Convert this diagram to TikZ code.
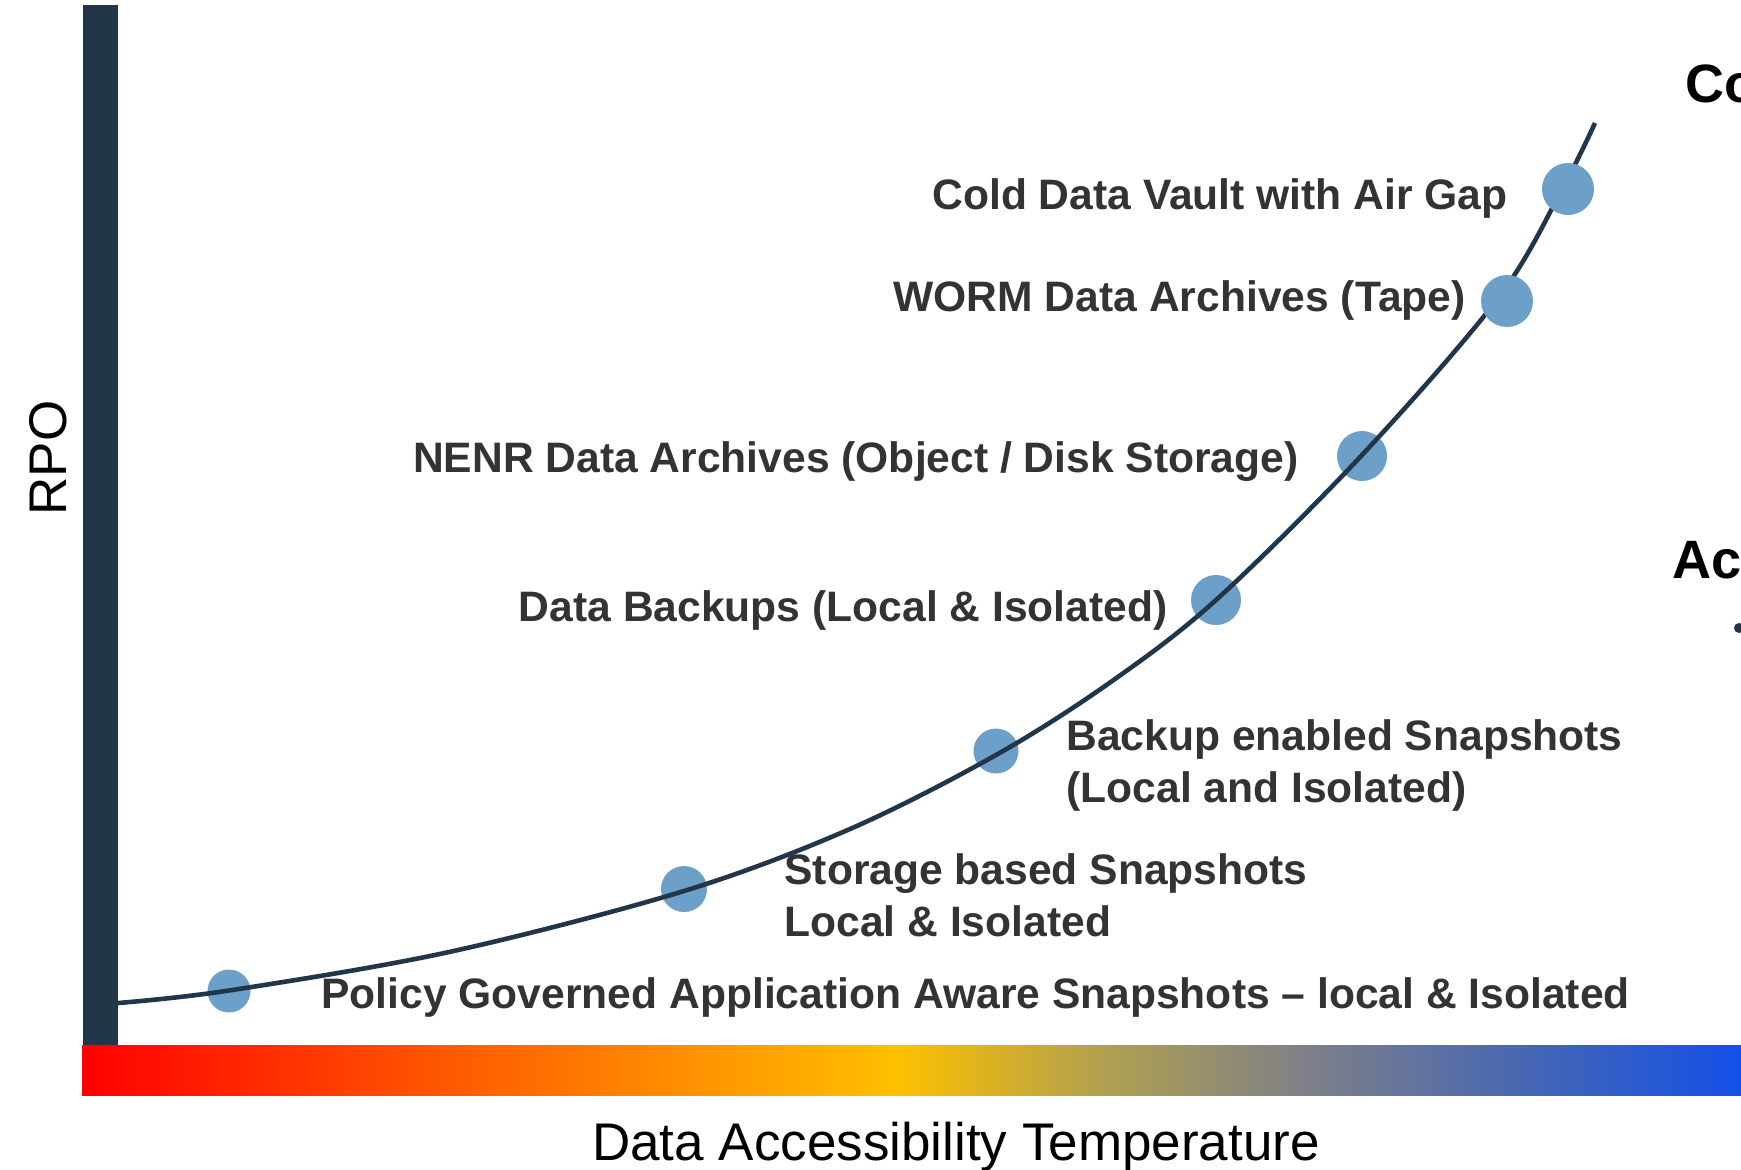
\documentclass[tikz,border=0pt]{standalone}
\usepackage{fontspec}
\setmainfont{Liberation Sans}

\definecolor{navy}{HTML}{22364A}
\definecolor{dotblue}{HTML}{6CA0C8}
\definecolor{labelgray}{HTML}{333333}
% temperature scale colours, hot to cold
\definecolor{thot}{HTML}{FF0000}
\definecolor{twarm}{HTML}{FF6400}
\definecolor{tmild}{HTML}{FFC000}
\definecolor{tolive}{HTML}{B0A050}
\definecolor{tgray}{HTML}{7E8088}
\definecolor{tcool}{HTML}{4064B8}
\definecolor{tcold}{HTML}{1450E8}

% the path bounding box is mapped onto 25bp..75bp of the shading
\pgfdeclarehorizontalshading{temperature}{100bp}{%
  color(0bp)=(thot); color(25bp)=(thot); color(37.4bp)=(twarm);
  color(49.5bp)=(tmild); color(55.8bp)=(tolive); color(61.9bp)=(tgray);
  color(69.2bp)=(tcool); color(75bp)=(tcold); color(100bp)=(tcold)}

\tikzset{
  tier/.style={circle, fill=dotblue, inner sep=0pt},
  lbl/.style={inner sep=0pt, text=labelgray,
    font=\fontsize{21.3}{26}\selectfont\bfseries},
  axislbl/.style={inner sep=0pt, text=black,
    font=\fontsize{26.5}{31}\selectfont},
  sidelbl/.style={inner sep=0pt, text=black, anchor=base west,
    font=\fontsize{27}{32}\selectfont\bfseries},
}

\begin{document}
\begin{tikzpicture}[x=0.5pt, y=-0.5pt]
\useasboundingbox (0,0) rectangle (1741,1169);

% axes: vertical bar and temperature bar
\fill[navy] (83,5) rectangle (118,1046);
\shade[shading=temperature] (82,1045) rectangle (1741,1095);

% protection tiers lying under the curve
\node[tier, minimum width=20pt, minimum height=21.5pt] (t1) at (229,991) {};
\node[tier, minimum size=23pt] (t2) at (684,889) {};
\node[tier, minimum size=22.5pt] (t3) at (996,751) {};
\node[tier, minimum width=23.5pt, minimum height=25pt] (t4) at (1216,600) {};
\node[tier, minimum size=25pt] (t5) at (1362,456) {};

% RPO curve
\draw[navy, line width=2.3pt]
  plot[smooth, tension=0.55] coordinates {
    (118,1003) (229,990.5) (450,951.8) (684,891) (850,829) (996,755)
    (1110,682.5) (1216,600) (1362,455) (1499,297) (1563,187.5) (1595,123)};

% top tiers sit above the curve
\node[tier, minimum size=26pt] (t6) at (1507,301) {};
\node[tier, minimum size=26pt] (t7) at (1568,189) {};

% tier labels
\node[lbl, anchor=base east] (l7) at (1508,209) {Cold Data Vault with Air Gap};
\node[lbl, anchor=base east] (l6) at (1466,311) {WORM Data Archives (Tape)};
\node[lbl, anchor=base east] (l5) at (1299,472) {NENR Data Archives (Object / Disk Storage)};
\node[lbl, anchor=base east] (l4) at (1168,621) {Data Backups (Local \& Isolated)};
\node[lbl, anchor=base west] (l3a) at (1066,750) {Backup enabled Snapshots};
\node[lbl, anchor=base west] (l3b) at (1066,802) {(Local and Isolated)};
\node[lbl, anchor=base west] (l2a) at (784,884) {Storage based Snapshots};
\node[lbl, anchor=base west] (l2b) at (784,936) {Local \& Isolated};
\node[lbl, anchor=base west] (l1) at (321,1008) {Policy Governed Application Aware Snapshots -- local \& Isolated};

% axis titles
\node[axislbl, rotate=90, anchor=base] (rpo) at (66,458) {RPO};
\node[axislbl, anchor=base] (temp) at (956,1160) {Data Accessibility Temperature};

% side headings at the right edge
\node[sidelbl] (co) at (1685,102) {Co};
\node[sidelbl] (acc) at (1672,578) {Acc};
\node[circle, fill=navy, inner sep=0pt, minimum size=5pt] (bul) at (1739,628) {};
\end{tikzpicture}
\end{document}
